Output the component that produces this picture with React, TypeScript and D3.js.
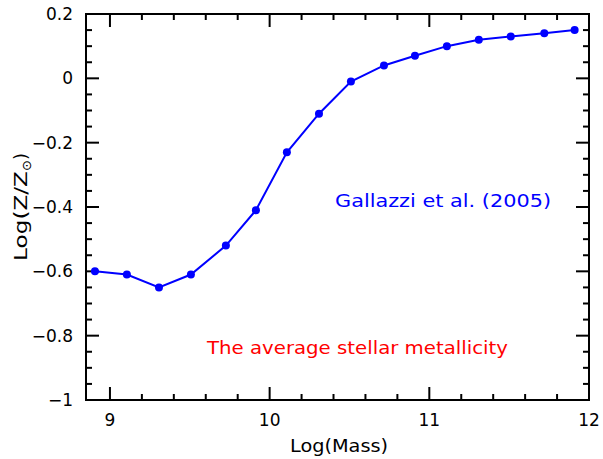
import React from "react";
import * as d3 from "d3";

const massX = [8.906, 9.106, 9.307, 9.507, 9.726, 9.914, 10.108, 10.309, 10.509, 10.716, 10.91, 11.11, 11.31, 11.51, 11.72, 11.91];
const metalY = [-0.6, -0.61, -0.65, -0.61, -0.52, -0.41, -0.23, -0.11, -0.01, 0.04, 0.07, 0.1, 0.12, 0.13, 0.14, 0.15];
const xMajor = [9, 10, 11, 12];
const yMajor = [-1, -0.8, -0.6, -0.4, -0.2, 0, 0.2];

const W = 603, H = 459;
const L = 86, R = 589, T = 14, B = 400;
const FONT = "'DejaVu Sans', sans-serif";

export default function App() {
  const x = d3.scaleLinear().domain([8.85, 12]).range([L, R]);
  const y = d3.scaleLinear().domain([-1, 0.2]).range([B, T]);
  const xMinor = d3.range(9, 12.001, 0.2).filter(v => !xMajor.some(m => Math.abs(m - v) < 1e-6));
  const yMinor = d3.range(-1, 0.2001, 0.05).filter(v => !yMajor.some(m => Math.abs(m - v) < 1e-6));
  const line = d3.line<number>().x((_, i) => x(massX[i])).y(d => y(d));
  const ylab = (v: number) => {
    const r = +v.toFixed(1);
    if (r === 0) return "0";
    if (r < 0) return "\u2212" + String(Math.abs(r));
    return String(r);
  };
  const MJ = 13, MN = 6;
  return (
    <svg width={W} height={H} style={{ position: "absolute", left: 0, top: 0 }}>
      <rect width={W} height={H} fill="white" />
      <g stroke="black" strokeWidth={2}>
        {xMajor.map(v => (
          <g key={"xm" + v}>
            <line x1={x(v)} x2={x(v)} y1={B} y2={B - MJ} />
            <line x1={x(v)} x2={x(v)} y1={T} y2={T + MJ} />
          </g>
        ))}
        {xMinor.map(v => (
          <g key={"xn" + v}>
            <line x1={x(v)} x2={x(v)} y1={B} y2={B - MN} />
            <line x1={x(v)} x2={x(v)} y1={T} y2={T + MN} />
          </g>
        ))}
        {yMajor.map(v => (
          <g key={"ym" + v}>
            <line x1={L} x2={L + MJ} y1={y(v)} y2={y(v)} />
            <line x1={R} x2={R - MJ} y1={y(v)} y2={y(v)} />
          </g>
        ))}
        {yMinor.map(v => (
          <g key={"yn" + v}>
            <line x1={L} x2={L + MN} y1={y(v)} y2={y(v)} />
            <line x1={R} x2={R - MN} y1={y(v)} y2={y(v)} />
          </g>
        ))}
        <rect x={L} y={T} width={R - L} height={B - T} fill="none" />
      </g>
      <g fontFamily={FONT} fontSize={17} fill="black">
        {xMajor.map(v => (
          <text key={"xl" + v} x={x(v)} y={426} textAnchor="middle">{v}</text>
        ))}
        {yMajor.map(v => (
          <text key={"yl" + v} x={73} y={y(v) + 6} textAnchor="end">{ylab(v)}</text>
        ))}
        <text x={290} y={452} fontSize={18} textLength={98} lengthAdjust="spacingAndGlyphs">Log(Mass)</text>
        <text transform={`translate(27,261) rotate(-90)`} fontSize={18}>
          <tspan textLength={90} lengthAdjust="spacingAndGlyphs">Log(Z/Z</tspan><tspan fontSize={13} dy={4}>{"\u2299"}</tspan><tspan dy={-4}>)</tspan>
        </text>
      </g>
      <path d={line(metalY) || ""} fill="none" stroke="#0000ff" strokeWidth={2} />
      {metalY.map((v, i) => (
        <circle key={i} cx={x(massX[i])} cy={y(v)} r={4} fill="#0000ff" />
      ))}
      <text x={335} y={207} fontFamily={FONT} fontSize={18} fill="#0000ff" textLength={216} lengthAdjust="spacingAndGlyphs">Gallazzi et al. (2005)</text>
      <text x={207} y={354} fontFamily={FONT} fontSize={18} fill="#ff0000" textLength={301} lengthAdjust="spacingAndGlyphs">The average stellar metallicity</text>
    </svg>
  );
}
